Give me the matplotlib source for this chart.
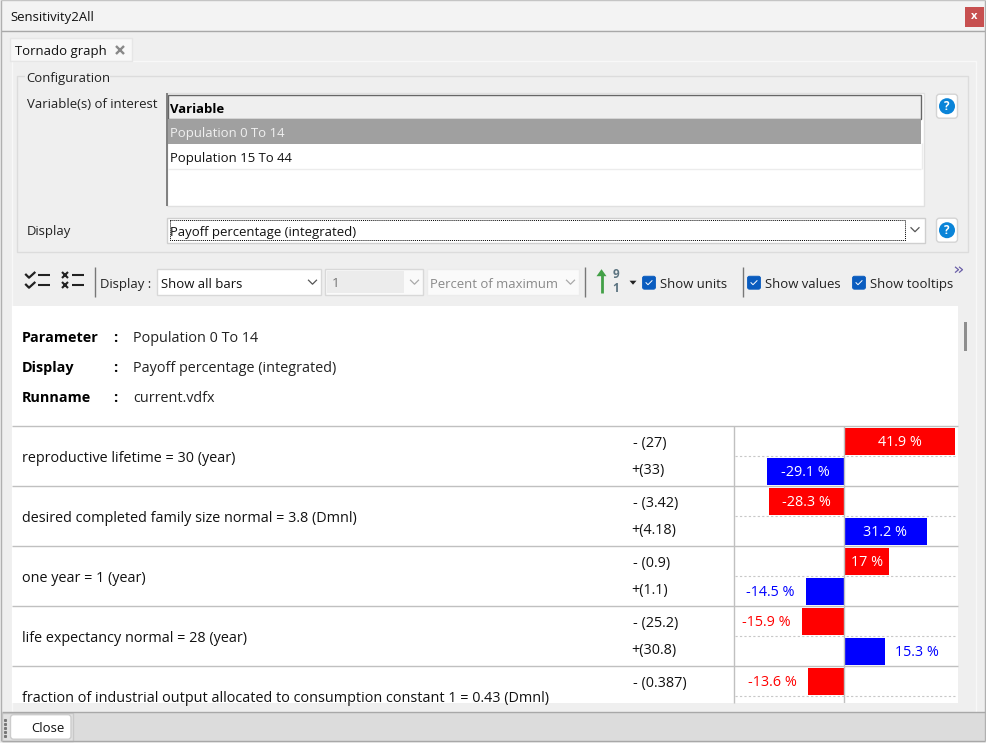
import matplotlib
matplotlib.use("Agg")
import matplotlib.pyplot as plt
from matplotlib.patches import Rectangle, Circle, Polygon, FancyBboxPatch

plt.rcParams['font.family'] = ['Open Sans', 'DejaVu Sans']

# tornado data, top to bottom
row_labels = [
    "reproductive lifetime = 30 (year)",
    "desired completed family size normal = 3.8 (Dmnl)",
    "one year = 1 (year)",
    "life expectancy normal = 28 (year)",
    "fraction of industrial output allocated to consumption constant 1 = 0.43 (Dmnl)",
]
low_labels = ["- (27)", "- (3.42)", "- (0.9)", "- (25.2)", "- (0.387)"]
high_labels = ["+(33)", "+(4.18)", "+(1.1)", "+(30.8)", ""]
bar_values = [41.9, -29.1, -28.3, 31.2, 17, -14.5, -15.9, 15.3, -13.6]
bar_texts = ["41.9 %", "-29.1 %", "-28.3 %", "31.2 %", "17 %", "-14.5 %", "-15.9 %", "15.3 %", "-13.6 %"]
bar_colors = ["red", "blue", "red", "blue", "red", "blue", "red", "blue", "red"]

info_names = ["Parameter", "Display", "Runname"]
info_values = ["Population 0 To 14", "Payoff percentage (integrated)", "current.vdfx"]

FS = 9.45      # widgets
FS_REP = 10.35 # report area
W, H = 986, 743
OX, OY = 0.5, 0.8  # geometry nudge to land on the same pixels
TX, TY = 0.7, 2.9  # text offset from its box position

fig = plt.figure(figsize=(W / 100, H / 100), dpi=100, facecolor="white")
ax = fig.add_axes([0, 0, 1, 1])
ax.set_xlim(OX, W + OX)
ax.set_ylim(H + OY, OY)
ax.axis("off")


def box(x0, y0, x1, y1, fc="none", ec="none", lw=1, z=1, ls="-"):
    ax.add_patch(Rectangle((x0, y0), x1 - x0, y1 - y0, fc=fc, ec=ec, lw=lw, zorder=z, ls=ls))


def rbox(x0, y0, x1, y1, fc="white", ec="#d0d0d0", r=3, lw=1, z=3):
    ax.add_patch(FancyBboxPatch((x0 + r, y0 + r), x1 - x0 - 2 * r, y1 - y0 - 2 * r,
                                boxstyle=f"round,pad={r},rounding_size={r}",
                                fc=fc, ec=ec, lw=lw, zorder=z))


def line(x0, y0, x1, y1, c="#c0c0c0", lw=1, ls="-", z=3):
    ax.plot([x0, x1], [y0, y1], color=c, lw=lw, ls=ls, zorder=z, solid_capstyle="butt")


def label(x, y, s, c="#111111", ha="left", weight="normal", size=FS, z=5):
    return ax.text(x + TX, y + TY, s, color=c, ha=ha, va="center", fontweight=weight, fontsize=size, zorder=z)


def chevron(x, y, c="#555555"):
    ax.plot([x - 4, x, x + 4], [y - 2, y + 2, y - 2], color=c, lw=0.9, zorder=5)


def checkbox(x, y):
    rbox(x, y, x + 13, y + 13, fc="#0a5cbf", ec="#0a5cbf", r=2, lw=0.6, z=4)
    ax.plot([x + 3.5, x + 5.5, x + 9.5], [y + 6.5, y + 8.5, y + 4.5], color="white", lw=0.7, zorder=5)


def help_button(y):
    rbox(937, y, 958, y + 24, fc="white", ec="#d4d4d4")
    ax.add_patch(Circle((947.5, y + 12), 8, fc="#0a84d8", ec="none", zorder=4))
    ax.text(947.5, y + 12.5, "?", color="white", ha="center", va="center", fontsize=8.5, fontweight="bold", zorder=5)


# window
box(0, 0, W + 2, H + 2, fc="#efefef")
box(1, 1, 985, 31, fc="#f3f3f3", z=1)
line(1, 32, 985, 32, c="#a8a8a8")
line(1.5, 1, 1.5, 742, c="#b0b0b0")
line(985, 1, 985, 742, c="#b0b0b0")
line(1, 1, 985, 1, c="#c4c4c4")
label(10, 15.5, "Sensitivity2All")
box(965, 8, 984, 27.5, fc="#c75050", z=2)
ax.text(974.5, 17.5, "x", color="white", ha="center", va="center", fontsize=8, fontweight="bold", zorder=5)

# tab and panel
box(12.5, 62, 976.5, 713, fc="#efefef", ec="#f8f8f8", lw=1)
box(10, 39, 132, 61.5, fc="#f7f7f7", ec="#e6e6e6")
label(15, 49.5, "Tornado graph")
ax.plot([120], [50.5], marker="x", ms=6, mew=1.7, color="#888888", zorder=5)

# configuration group
box(17.5, 77, 968.5, 253, ec="#dcdcdc")
box(25, 70, 110, 84, fc="#efefef", z=2)
label(26, 76, "Configuration", c="#222222")
label(27, 102.5, "Variable(s) of interest", c="#222222")
label(27, 229.5, "Display", c="#222222")

box(167, 94, 924, 206.5, fc="white", ec="#e0e0e0")
line(167, 94, 167, 206.5, c="#777777", lw=1.3)
box(168, 95.5, 921.5, 119.5, fc="#efefef", ec="#666666", lw=1, z=2)
label(170, 107, "Variable", c="black", weight="bold")
box(168, 120, 921, 144.5, fc="#a0a0a0", z=2)
label(170, 131, "Population 0 To 14", c="#f0f0f0")
label(170, 156, "Population 15 To 44")
line(168, 170, 921, 170, c="#ececec")
line(922, 144, 922, 170, c="#ececec")
help_button(95)

box(167, 218.5, 925, 244, fc="white", ec="#cfcfcf")
box(170, 221, 905, 241, ec="black", lw=0.7, ls=(0, (1, 1)), z=3)
label(170, 230, "Payoff percentage (integrated)")
chevron(915.5, 230.5)
help_button(219)

# toolbar
for y in (277, 287):
    ax.plot([26.5, 29.5, 35], [y - 1.5, y + 1.5, y - 3.5], color="#222222", lw=1.6, zorder=5)
    line(38, y - 1.5, 50, y - 1.5, c="#222222", lw=1.5)
    ax.plot([65.5], [y - 1], marker="x", ms=4.5, mew=1.5, color="#222222", zorder=5)
    line(72, y - 1.5, 84, y - 1.5, c="#222222", lw=1.5)
for sx in (95, 585, 743):
    line(sx, 268, sx, 297.5, c="#777777")
label(100, 282, "Display :", c="#222222")

box(157.5, 270, 321, 296, fc="white", ec="#d8d8d8")
label(161, 282.5, "Show all bars")
chevron(313, 283)
box(325, 270, 423, 296, fc="#fafafa", ec="#d8d8d8")
box(327, 272, 404, 293.5, fc="#ececec", z=2)
label(332, 281.5, "1", c="#777777")
chevron(415, 283, c="#aaaaaa")
box(427, 270, 579, 296, fc="#fafafa", ec="#ececec")
label(430, 282.5, "Percent of maximum", c="#8a8a8a")
chevron(571, 283, c="#aaaaaa")

ax.plot([602, 602], [274, 294], color="#43a047", lw=2, zorder=5, solid_capstyle="butt")
ax.add_patch(Polygon([[597, 277], [602, 270], [607, 277]], fc="#43a047", ec="none", zorder=5))
ax.text(616, 275, "9", color="#5b7380", ha="center", va="center", fontsize=8.5, fontweight="bold", zorder=5)
ax.text(616, 289.5, "1", color="#5b7380", ha="center", va="center", fontsize=8.5, fontweight="bold", zorder=5)
ax.add_patch(Polygon([[630, 281.5], [637, 281.5], [633.5, 285.5]], fc="#222222", ec="none", zorder=5))
checkbox(643, 277)
label(660, 282.5, "Show units", c="#222222")
checkbox(748, 277)
label(765, 282.5, "Show values", c="#222222")
checkbox(853, 277)
label(870, 282.5, "Show tooltips", c="#222222")
for dx in (0, 4):
    ax.plot([956 + dx, 959 + dx, 956 + dx], [268, 270.5, 273], color="#6a5fa8", lw=0.9, zorder=5)

# report area
box(12, 306.5, 958.5, 703.5, fc="white", z=1)
box(964, 323, 967, 352, fc="#8e8e8e", z=2)
for y, name, val in zip((336, 366, 396), info_names, info_values):
    label(22, y, name, c="black", weight="bold", size=FS_REP)
    label(113, y, ":", c="black", weight="bold", size=FS_REP)
    label(133, y, val, c="#222222", size=FS_REP)

clip = Rectangle((12, 306), 946, 397.5, transform=ax.transData)
for i, row in enumerate(row_labels):
    top = 427 + 60 * i
    line(12, top, 958, top)
    t = label(22, top + 29.5, row, size=FS_REP)
    t.set_clip_path(clip)
    label(632.5, top + 14.5, low_labels[i], size=FS_REP)
    if high_labels[i]:
        label(631.5, top + 41.5, high_labels[i], size=FS_REP)
    line(735, top + 29.5, 957, top + 29.5, c="#c8c8c8", lw=0.8, ls=(0, (2, 2)))

# bars, in their own axes; 2.64 px per percent, zero near x=844.7
px = 2.64
zero_x = 844.7
bx0, bx1, by0, by1 = 735, 957, 427.5, 703.5
bar_ax = fig.add_axes([(bx0 - OX) / W, 1 - (by1 - OY) / H, (bx1 - bx0) / W, (by1 - by0) / H])
bar_ax.set_xlim((bx0 - zero_x) / px, (bx1 - zero_x) / px)
bar_ax.set_ylim((by1 - by0) / 30 - 0.5, -0.5)
bar_ax.axis("off")
bar_ax.patch.set_alpha(0)
positions = list(range(len(bar_values)))
bar_ax.barh(positions, bar_values, height=27 / 30, color=bar_colors, zorder=2)
bar_ax.axvline(0, color="#c0c0c0", lw=1, zorder=3)
for p, v, s, c in zip(positions, bar_values, bar_texts, bar_colors):
    if abs(v) >= 17:
        bar_ax.text(v / 2, p + 0.03, s, color="white", ha="center", va="center", fontsize=FS_REP, zorder=4)
    elif v < 0:
        bar_ax.annotate(s, (v, p + 0.03), xytext=(-8.5, 0), textcoords="offset points", color=c, ha="right", va="center", fontsize=FS_REP, zorder=4)
    else:
        bar_ax.annotate(s, (v, p + 0.03), xytext=(7.5, 0), textcoords="offset points", color=c, ha="left", va="center", fontsize=FS_REP, zorder=4)
line(734.7, 427, 734.7, 703.5)

# bottom strip
box(2, 713.5, 985, 742, fc="#dcdcdc", z=2)
line(2, 713, 985, 713, c="#a8a8a8")
line(2, 742, 985, 742, c="#a8a8a8")
box(2.5, 713.5, 73, 742, fc="#e2e2e2", ec="#c8c8c8", z=2)
rbox(11, 715.5, 71.5, 740, fc="white", ec="#cccccc", z=3)
label(48, 726.5, "Close", ha="center")
ax.plot([5] * 5, [721, 725, 729, 733, 737], ls="none", marker="s", ms=1.2, color="#777777", zorder=5)

fig.savefig("out.png", dpi=100)
